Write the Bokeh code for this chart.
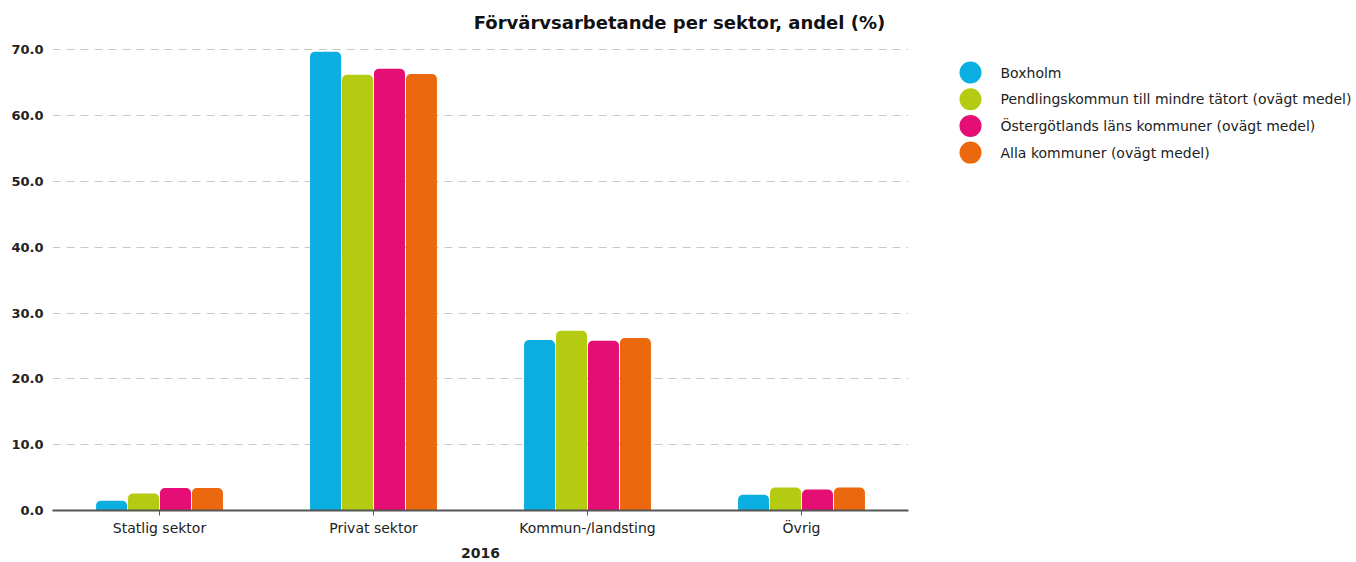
from bokeh.plotting import figure
from bokeh.layouts import row
from bokeh.models import (ColumnDataSource, FactorRange, Range1d, FixedTicker,
                          PrintfTickFormatter, Label)
from bokeh.core.properties import value
from bokeh.transform import dodge
from bokeh.embed import file_html
from bokeh.resources import INLINE

categories = ["Statlig sektor", "Privat sektor", "Kommun-/landsting", "Övrig"]
series_names = [
    "Boxholm",
    "Pendlingskommun till mindre tätort (ovägt medel)",
    "Östergötlands läns kommuner (ovägt medel)",
    "Alla kommuner (ovägt medel)",
]
boxholm = [1.5, 69.7, 25.9, 2.4]
pendling = [2.6, 66.2, 27.3, 3.5]
ostergotland = [3.4, 67.1, 25.8, 3.2]
alla = [3.4, 66.3, 26.2, 3.5]
y_ticks = [0, 10, 20, 30, 40, 50, 60, 70]
title_text = "Förvärvsarbetande per sektor, andel (%)"
x_title = "2016"

colors = ["#0aaee1", "#b4cb12", "#e40e74", "#eb680f"]
cols = ["boxholm", "pendling", "ostergotland", "alla"]
offsets = [-0.224, -0.0746, 0.0746, 0.224]

src = ColumnDataSource(dict(cat=categories, boxholm=boxholm, pendling=pendling,
                            ostergotland=ostergotland, alla=alla))

FONT = "DejaVu Sans"
H = 562
MAIN_W = 920
LEG_W = 1356 - MAIN_W
TOP = 11
BOTTOM = 52

p = figure(x_range=FactorRange(*categories, range_padding=0), y_range=Range1d(0, 75.8),
           width=MAIN_W, height=H, output_backend="svg", toolbar_location=None,
           min_border_left=52, min_border_right=12, min_border_top=TOP, min_border_bottom=BOTTOM)
p.outline_line_color = None

for col, c, off in zip(cols, colors, offsets):
    p.vbar(x=dodge("cat", off, range=p.x_range), top=col, width=0.145, source=src,
           fill_color=c, line_color=None, border_radius=(5, 5, 0, 0))

p.add_layout(Label(x=627, y=488, x_units="screen", y_units="screen", text=title_text,
                   text_align="center", text_baseline="middle", text_font=FONT,
                   text_font_size="18px", text_font_style="bold", text_color="#111111"))

p.xgrid.grid_line_color = None
p.ygrid.grid_line_color = "#c8c8c8"
p.ygrid.grid_line_dash = "8 6"
p.ygrid.grid_line_width = 1

p.yaxis.ticker = FixedTicker(ticks=y_ticks)
p.yaxis.formatter = PrintfTickFormatter(format="%.1f")
p.yaxis.axis_line_color = None
p.yaxis.major_tick_line_color = None
p.yaxis.minor_tick_line_color = None
p.yaxis.major_tick_out = 0
p.yaxis.major_tick_in = 0
p.yaxis.minor_tick_out = 0
p.yaxis.major_label_standoff = 9
p.yaxis.major_label_text_font = FONT
p.yaxis.major_label_text_font_size = "13px"
p.yaxis.major_label_text_font_style = "bold"
p.yaxis.major_label_text_color = "#222222"

p.xaxis.axis_line_color = "#555555"
p.xaxis.axis_line_width = 2
p.xaxis.major_tick_line_color = "#555555"
p.xaxis.major_tick_out = 5
p.xaxis.major_tick_in = 0
p.xaxis.major_label_standoff = 4
p.xaxis.major_label_text_font = FONT
p.xaxis.major_label_text_font_size = "14px"
p.xaxis.major_label_text_color = "#222222"
p.xaxis.axis_label = x_title
p.xaxis.axis_label_standoff = 9
p.xaxis.axis_label_text_font = FONT
p.xaxis.axis_label_text_font_size = "14px"
p.xaxis.axis_label_text_font_style = "bold"
p.xaxis.axis_label_text_color = "#222222"

# legend panel: its frame is aligned with the main frame, so use page-pixel coordinates
q = figure(x_range=Range1d(0, LEG_W), y_range=Range1d(H - BOTTOM, TOP), width=LEG_W, height=H,
           output_backend="svg", toolbar_location=None, title=None,
           x_axis_location=None, y_axis_location=None,
           min_border_left=0, min_border_right=0, min_border_top=TOP, min_border_bottom=BOTTOM)
q.grid.visible = False
q.outline_line_color = None
row_step = 26.7
leg_y = [72 + i * row_step for i in range(len(series_names))]
leg_src = ColumnDataSource(dict(y=leg_y, name=series_names, color=colors))
q.scatter(x=50, y="y", size=22, marker="circle", fill_color="color", line_color=None, source=leg_src)
q.text(x=80, y="y", text="name", source=leg_src, text_font=value(FONT),
       text_font_size=value("14px"), text_baseline="middle", text_align="left",
       text_color="#222222")

open("out.html", "w").write(file_html(row(p, q), INLINE))
